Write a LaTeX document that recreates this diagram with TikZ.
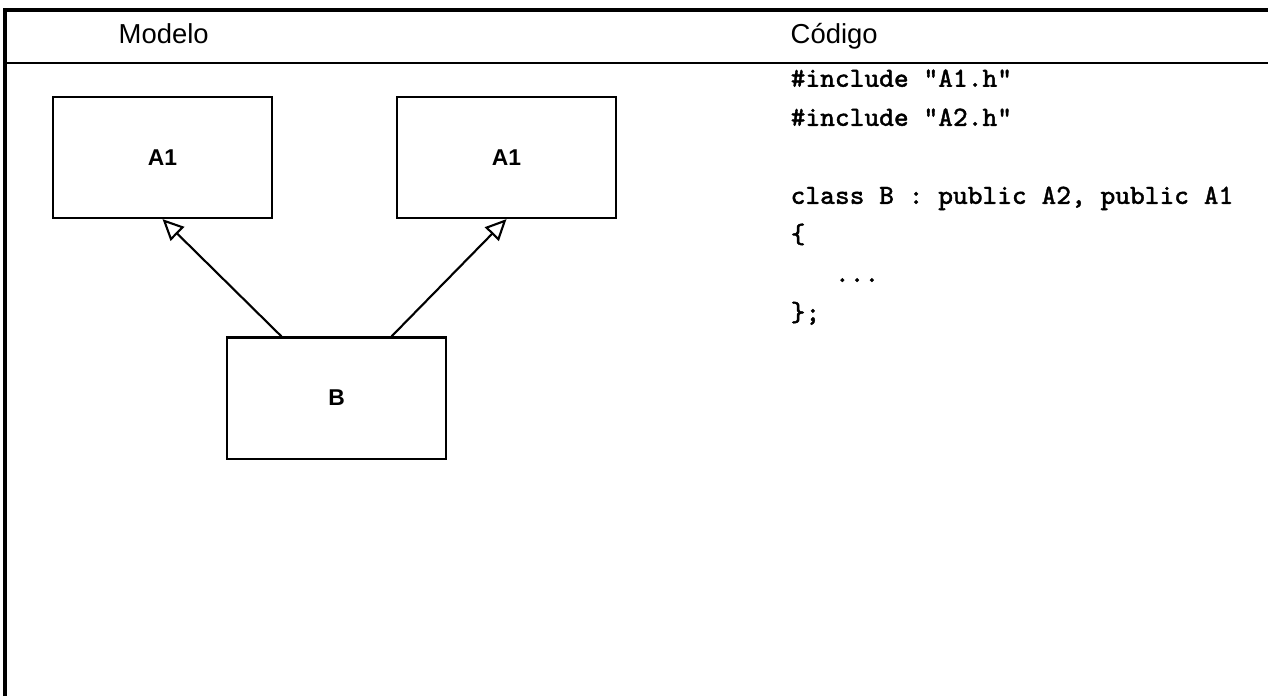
\documentclass[tikz,border=0pt]{standalone}
\usepackage{fontspec}
\setmainfont{Liberation Sans}
\newfontfamily\codefont[FakeBold=1.3]{Latin Modern Mono}
\usetikzlibrary{arrows.meta,positioning}

\begin{document}
\begin{tikzpicture}[x=0.01cm, y=-0.01cm,
klass/.style={draw, line width=0.6pt, minimum width=2.19cm, minimum height=1.21cm,
 font=\fontsize{6.5}{7}\selectfont\bfseries, inner sep=0pt},
herda/.style={line width=0.6pt, -{Triangle[open, length=6pt, width=5.5pt, fill=white]}},
titulo/.style={anchor=base west, font=\fontsize{7.8}{9}\selectfont, inner sep=0pt}
]
\useasboundingbox (0,0) rectangle (1268,696);

% moldura e cabecalho
\draw[line width=1.1pt] (5,696) -- (5,10) -- (1268,10);
\draw[line width=0.6pt] (5,63) -- (1268,63);
\node[titulo] (modelo) at (118,43) {Modelo};
\node[titulo] (codigo) at (790,43) {Código};

% modelo
\node[klass] (a1l) at (162.5,157.5) {A1};
\node[klass] (a1r) at (506.5,157.5) {A1};
\node[klass] (b) at (336.5,398) {B};

\draw[herda] ([xshift=-0.55cm]b.north) -- (a1l.south);
\draw[herda] ([xshift=0.55cm]b.north) -- (a1r.south);

% codigo (base = ultima linha)
\node[anchor=base west, align=left, inner sep=0pt,
 font=\fontsize{7.9}{11.1}\selectfont\codefont] (fonte) at (790,321)
 {\#include "A1.h"\\
  \#include "A2.h"\\
  \mbox{}\\
  class B : public A2, public A1\\
  \{\\
  \phantom{xxx}...\\
  \};};
\end{tikzpicture}
\end{document}
